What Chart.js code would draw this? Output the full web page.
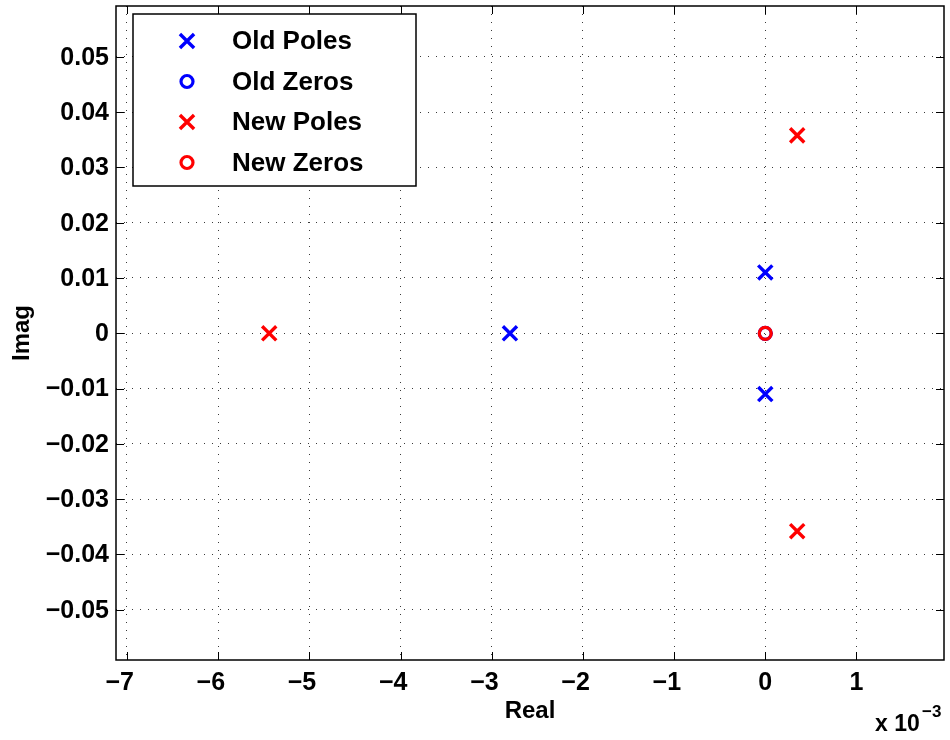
<!DOCTYPE html>
<html><head><meta charset="utf-8">
<script src="https://cdn.jsdelivr.net/npm/chart.js@4/dist/chart.umd.min.js"></script>
<style>html,body{margin:0;padding:0;background:#fff;overflow:hidden}</style>
</head><body>
<canvas id="c" width="950" height="740"></canvas>
<script>
// Real parts are in units of 1e-3 (axis shows "x 10^-3")
const oldPolesRe = [-2.80, 0.00, 0.00];
const oldPolesIm = [0.0000, 0.0110, -0.0110];
const oldZerosRe = [0.00];
const oldZerosIm = [0.0000];
const newPolesRe = [-5.44, 0.35, 0.35];
const newPolesIm = [0.0000, 0.0358, -0.0358];
const newZerosRe = [0.00];
const newZerosIm = [0.0000];
const seriesNames = ['Old Poles', 'Old Zeros', 'New Poles', 'New Zeros'];
const xTicks = [-7, -6, -5, -4, -3, -2, -1, 0, 1];
const yTicks = [-0.05, -0.04, -0.03, -0.02, -0.01, 0, 0.01, 0.02, 0.03, 0.04, 0.05];
const xRange = [-7.12, 1.96];
const yRange = [-0.0591, 0.0592];

const BLUE = '#0000ff', RED = '#ff0000';
const FONT = '"Liberation Sans", Arial, Helvetica, sans-serif';
const pts = (re, im) => re.map((v, i) => ({x: v, y: im[i]}));
const fmt = (v, dec) => {
  if (Math.abs(v) < 1e-12) return '0';
  const s = Math.abs(v).toFixed(dec);
  return (v < 0 ? '\u2212' : '') + s;
};

const styles = [
  {pointStyle: 'crossRot', radius: 10, borderWidth: 3.4, color: BLUE},
  {pointStyle: 'circle', radius: 6, borderWidth: 3.2, color: BLUE},
  {pointStyle: 'crossRot', radius: 10, borderWidth: 3.4, color: RED},
  {pointStyle: 'circle', radius: 6, borderWidth: 3.2, color: RED}
];
const dataArr = [pts(oldPolesRe, oldPolesIm), pts(oldZerosRe, oldZerosIm), pts(newPolesRe, newPolesIm), pts(newZerosRe, newZerosIm)];
const orders = [3, 4, 2, 1];

function drawMarker(ctx, st, x, y) {
  ctx.save();
  ctx.strokeStyle = st.color;
  ctx.lineWidth = st.borderWidth;
  ctx.beginPath();
  if (st.pointStyle === 'circle') {
    ctx.arc(x, y, st.radius, 0, Math.PI * 2);
  } else {
    const d = st.radius * Math.SQRT1_2;
    ctx.moveTo(x - d, y - d); ctx.lineTo(x + d, y + d);
    ctx.moveTo(x - d, y + d); ctx.lineTo(x + d, y - d);
  }
  ctx.stroke();
  ctx.restore();
}

const decor = {
  id: 'decor',
  afterDatasetsDraw(chart) {
    const {ctx, chartArea: a, scales: {x, y}} = chart;
    ctx.save();
    // inside tick marks on all four sides
    ctx.strokeStyle = '#000';
    ctx.lineWidth = 1;
    ctx.beginPath();
    xTicks.forEach(v => {
      const px = Math.round(x.getPixelForValue(v)) + 0.5;
      ctx.moveTo(px, a.bottom); ctx.lineTo(px, a.bottom - 8);
      ctx.moveTo(px, a.top); ctx.lineTo(px, a.top + 8);
    });
    yTicks.forEach(v => {
      const py = Math.round(y.getPixelForValue(v)) + 0.5;
      ctx.moveTo(a.left, py); ctx.lineTo(a.left + 8, py);
      ctx.moveTo(a.right, py); ctx.lineTo(a.right - 8, py);
    });
    ctx.stroke();
    // axes box
    ctx.lineWidth = 1.5;
    ctx.strokeRect(a.left, a.top, a.right - a.left, a.bottom - a.top);

    // tick labels
    ctx.fillStyle = '#000';
    ctx.font = 'bold 25px ' + FONT;
    ctx.textBaseline = 'middle';
    ctx.textAlign = 'right';
    yTicks.forEach(v => {
      ctx.fillText(fmt(v, 2), a.left - 7, y.getPixelForValue(v) + 1);
    });
    ctx.textBaseline = 'top';
    xTicks.forEach(v => {
      const s = fmt(v, 0);
      const digits = String(Math.abs(v));
      const w = ctx.measureText(digits).width;
      ctx.fillText(s, x.getPixelForValue(v) + w / 2, a.bottom + 11);
    });

    // axis titles
    ctx.font = 'bold 24px ' + FONT;
    ctx.textAlign = 'center';
    ctx.textBaseline = 'middle';
    ctx.fillText('Real', (a.left + a.right) / 2, a.bottom + 51);
    ctx.save();
    ctx.translate(22, (a.top + a.bottom) / 2);
    ctx.rotate(-Math.PI / 2);
    ctx.fillText('Imag', 0, 0);
    ctx.restore();

    // exponent label
    ctx.textAlign = 'left';
    ctx.textBaseline = 'alphabetic';
    ctx.font = 'bold 23px ' + FONT;
    ctx.fillText('x 10', 875, 731);
    ctx.font = 'bold 17px ' + FONT;
    ctx.fillText('\u22123', 922, 717);

    // legend
    const L = {x: 133, y: 14, w: 283, h: 172};
    ctx.fillStyle = '#fff';
    ctx.fillRect(L.x, L.y, L.w, L.h);
    ctx.strokeStyle = '#000';
    ctx.lineWidth = 1.5;
    ctx.strokeRect(L.x, L.y, L.w, L.h);
    ctx.fillStyle = '#000';
    ctx.font = 'bold 26px ' + FONT;
    ctx.textBaseline = 'middle';
    seriesNames.forEach((name, i) => {
      const cy = L.y + 27 + i * 40.5;
      drawMarker(ctx, styles[i], L.x + 54, cy);
      ctx.fillText(name, L.x + 99, cy + 1);
    });
    ctx.restore();
  }
};

new Chart(document.getElementById('c'), {
  type: 'scatter',
  data: {
    datasets: seriesNames.map((name, i) => ({
      label: name,
      data: dataArr[i],
      pointStyle: styles[i].pointStyle,
      pointRadius: styles[i].radius,
      pointHoverRadius: styles[i].radius,
      pointBorderWidth: styles[i].borderWidth,
      borderColor: styles[i].color,
      backgroundColor: 'rgba(0,0,0,0)',
      showLine: false,
      order: orders[i]
    }))
  },
  options: {
    responsive: false,
    animation: false,
    events: [],
    layout: {autoPadding: false, padding: {top: 6, right: 6, left: 0, bottom: 0}},
    plugins: {legend: {display: false}, tooltip: {enabled: false}},
    scales: {
      x: {
        type: 'linear', min: xRange[0], max: xRange[1],
        afterBuildTicks: s => { s.ticks = xTicks.map(v => ({value: v})); },
        afterFit: s => { s.height = 80; },
        ticks: {display: false},
        grid: {color: '#3a3a3a', lineWidth: 1, drawTicks: false},
        border: {display: false, dash: [1, 7]}
      },
      y: {
        type: 'linear', min: yRange[0], max: yRange[1],
        afterBuildTicks: s => { s.ticks = yTicks.map(v => ({value: v})); },
        afterFit: s => { s.width = 116; },
        ticks: {display: false},
        grid: {color: '#3a3a3a', lineWidth: 1, drawTicks: false},
        border: {display: false, dash: [1, 7]}
      }
    }
  },
  plugins: [decor]
});
</script>
</body></html>
